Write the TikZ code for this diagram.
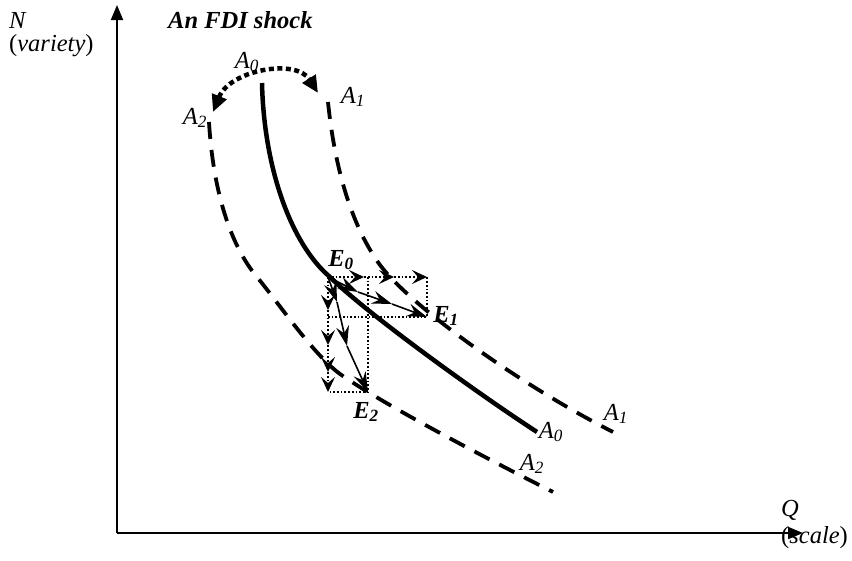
\documentclass[tikz,border=0pt]{standalone}
\usepackage{fontspec}
\setmainfont{Liberation Serif}
\usetikzlibrary{arrows.meta}
\begin{document}
\begin{tikzpicture}[x=1pt,y=-1pt,
  lbl/.style={inner sep=0pt,font=\fontsize{24.5}{27}\selectfont\itshape},
  rlbl/.style={inner sep=0pt,font=\fontsize{24.5}{27}\selectfont},
  elbl/.style={inner sep=0pt,font=\fontsize{24.5}{27}\selectfont\bfseries\itshape},
  axis/.style={line width=1.8pt,-{Triangle[length=15pt,width=12pt]}},
  basecurve/.style={line width=4.5pt},
  shiftcurve/.style={line width=3.8pt,dash pattern=on 17pt off 11pt},
  shiftarc/.style={line width=4.5pt,dash pattern=on 5pt off 3.5pt,
     {Triangle[length=17pt,width=15pt]}-{Triangle[length=17pt,width=15pt]}},
  guide/.style={line width=1.7pt,dotted},
  dstep/.style={line width=1.8pt,dotted,-{Stealth[length=15pt,width=14pt,inset=6pt]}},
  sstep/.style={line width=1.6pt,-{Stealth[length=20pt,width=13pt,inset=7pt]}}]
\useasboundingbox (0,0) rectangle (852,560);

% axes
\coordinate (O) at (117,533);
\coordinate (Ytop) at (117,5);
\coordinate (Xend) at (803,533);
\draw[axis] (O) -- (Ytop);
\draw[axis] (O) -- (Xend);
\node[lbl,anchor=west] (N) at (9,20) {N};
\node[rlbl,anchor=west] (Nv) at (9,46) {(\textit{variety})};
\node[elbl,anchor=west] (title) at (168,20) {An FDI shock};
\node[lbl,anchor=west] (Q) at (781,510) {Q};
\node[rlbl,anchor=west] (Qs) at (781,538) {(\textit{scale})};

% curves
\draw[basecurve] (262,83) .. controls (264,170) and (292,245) .. (330,277)
                          .. controls (365,312) and (477,393) .. (537,432);
\draw[shiftcurve] (328,102) .. controls (336,180) and (356,232) .. (380,265)
                           .. controls (410,305) and (515,382) .. (613,432);
\draw[shiftcurve] (209,122) .. controls (213,190) and (230,245) .. (257,277)
                           .. controls (280,305) and (313,354) .. (340,374)
                           .. controls (380,402) and (470,450) .. (553,492);

% shift arc
\coordinate (arcL) at (213,112);
\coordinate (arcR) at (318,93);
\draw[shiftarc] (arcL) .. controls (230,70) and (296,58) .. (arcR);

% curve labels
\node[lbl] (A0t) at (247,62) {A\textsubscript{0}};
\node[lbl] (A1t) at (353,97) {A\textsubscript{1}};
\node[lbl] (A2t) at (195,118) {A\textsubscript{2}};
\node[lbl] (A0b) at (551,432) {A\textsubscript{0}};
\node[lbl] (A1b) at (616,414) {A\textsubscript{1}};
\node[lbl] (A2b) at (532,464) {A\textsubscript{2}};

% equilibria
\coordinate (E0) at (328,277);
\coordinate (E1) at (427,317);
\coordinate (E2) at (368,392);
\coordinate (c1) at (427,277);
\coordinate (c2) at (328,317);
\coordinate (c3) at (368,277);
\coordinate (c4) at (328,392);
\node[elbl] (E0l) at (341,260) {E\textsubscript{0}};
\node[elbl] (E1l) at (446,316) {E\textsubscript{1}};
\node[elbl] (E2l) at (366,412) {E\textsubscript{2}};

% dotted guide rectangles
\draw[guide] (c2) -- (E1) -- (c1);
\draw[guide] (c3) -- (E2) -- (c4);

% dotted stepped arrows
\coordinate (h1) at (364,277);
\coordinate (h2) at (394,277);
\draw[dstep] (E0) -- (h1);
\draw[dstep] (h1) -- (h2);
\draw[dstep] (h2) -- (c1);
\coordinate (v1) at (328,310);
\coordinate (v2) at (328,345);
\coordinate (v3) at (328,372);
\draw[dstep] (E0) -- (v1);
\draw[dstep] (v1) -- (v2);
\draw[dstep] (v2) -- (v3);
\draw[dstep] (v3) -- (c4);

% solid stepped arrows
\coordinate (s1) at (358,292);
\coordinate (s2) at (392,304);
\draw[sstep] (E0) -- (s1);
\draw[sstep] (s1) -- (s2);
\draw[sstep] (s2) -- (E1);
\coordinate (t1) at (337,302);
\coordinate (t2) at (347,346);
\draw[sstep] (E0) -- (t1);
\draw[sstep] (t1) -- (t2);
\draw[sstep] (t2) -- (E2);
\end{tikzpicture}
\end{document}
